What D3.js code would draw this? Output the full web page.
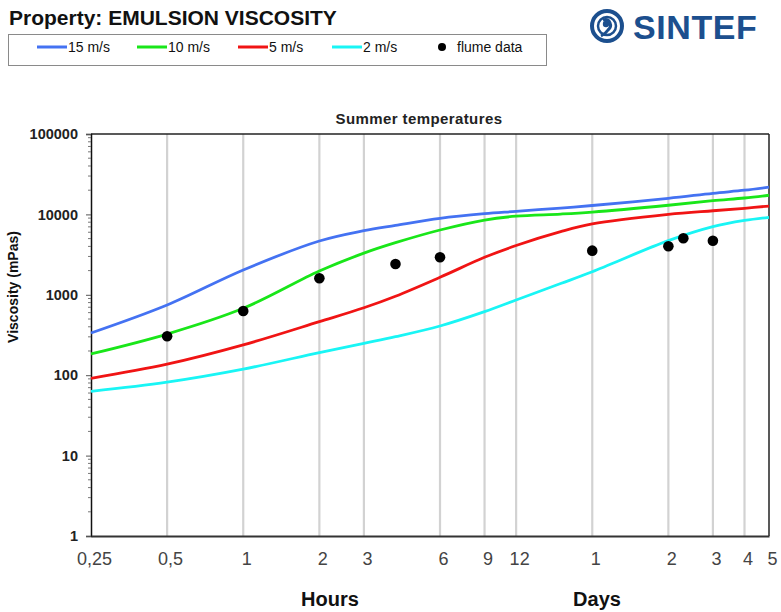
<!DOCTYPE html>
<html><head><meta charset="utf-8">
<script src="https://cdn.jsdelivr.net/npm/d3@7"></script>
<style>
body{margin:0;background:#fff;}
svg{display:block;font-family:Arial,"Liberation Sans",sans-serif;}
</style></head><body>
<svg id="c" width="781" height="612"></svg>
<script>
// time in hours
const hours = [0.25, 0.5, 1, 2, 3, 4, 6, 9, 12, 18, 24, 48, 72, 96, 120];
const v15 = [335, 747, 2034, 4670, 6270, 7300, 8940, 10200, 10900, 12000, 12900, 15850, 18300, 20000, 21800];
const v10 = [184, 325, 679, 1977, 3300, 4450, 6400, 8510, 9500, 10100, 10700, 13000, 14800, 16000, 17300];
const v5  = [91.5, 137, 238, 463, 690, 960, 1650, 2925, 4100, 6090, 7600, 10000, 11100, 11900, 12700];
const v2  = [63, 82, 119, 191, 249, 301, 409, 617, 861, 1380, 1937, 4710, 7030, 8400, 9200];
const flumeHours = [0.5, 1, 2, 4, 6, 24, 48, 55, 72];
const flumeVals  = [305, 629, 1604, 2416, 2925, 3540, 4010, 5040, 4710];
const seriesNames = ["15 m/s", "10 m/s", "5 m/s", "2 m/s"];
const seriesColors = ["#4472f2", "#19e619", "#f01414", "#19f5f5"];
const xTickHours = [0.25, 0.5, 1, 2, 3, 6, 9, 12, 24, 48, 72, 96, 120];
const xTickLabels = ["0,25", "0,5", "1", "2", "3", "6", "9", "12", "1", "2", "3", "4", "5"];
const yMajor = [1, 10, 100, 1000, 10000, 100000];

const svg = d3.select("#c");
const L = 91, R = 769, T = 134, B = 536;
const x = d3.scaleLog().domain([0.25, 120]).range([L, R]);
const y = d3.scaleLog().domain([1, 100000]).range([B, T]);

// title
svg.append("text").attr("x", 9).attr("y", 25).attr("font-size", 21).attr("font-weight", "bold")
  .attr("fill", "#111").text("Property: EMULSION VISCOSITY");

// legend box
svg.append("rect").attr("x", 8.5).attr("y", 34.5).attr("width", 538).attr("height", 31)
  .attr("fill", "#fff").attr("stroke", "#8a8a8a");
const legX = [37, 137, 238, 332];
seriesNames.forEach((n, i) => {
  svg.append("line").attr("x1", legX[i]).attr("x2", legX[i] + 30).attr("y1", 47).attr("y2", 47)
    .attr("stroke", seriesColors[i]).attr("stroke-width", 3);
  svg.append("text").attr("x", legX[i] + 31).attr("y", 52).attr("font-size", 14).attr("fill", "#111").text(n);
});
svg.append("circle").attr("cx", 442).attr("cy", 47).attr("r", 4).attr("fill", "#000");
svg.append("text").attr("x", 457).attr("y", 52).attr("font-size", 14).attr("fill", "#111").text("flume data");

// SINTEF logo
const logo = svg.append("g").attr("fill", "none").attr("stroke", "#1c4f8e");
logo.append("circle").attr("cx", 607).attr("cy", 26).attr("r", 15).attr("stroke-width", 4);
logo.append("circle").attr("cx", 607).attr("cy", 26).attr("r", 9).attr("stroke-width", 2.5);
logo.append("path").attr("d", "M603,20 C610,18 613,26 608,30 C606,33 603,35 601,36")
  .attr("stroke-width", 3);
svg.append("circle").attr("cx", 606).attr("cy", 24).attr("r", 3.2).attr("fill", "#1c4f8e");
svg.append("text").attr("x", 633).attr("y", 39).attr("font-size", 34).attr("font-weight", "bold")
  .attr("fill", "#1c4f8e").attr("letter-spacing", 0.6).text("SINTEF");

// chart title
svg.append("text").attr("x", 419).attr("y", 124).attr("text-anchor", "middle").attr("font-size", 15)
  .attr("font-weight", "bold").attr("fill", "#222").attr("letter-spacing", 0.4).text("Summer temperatures");

// gridlines
svg.append("g").selectAll("line").data(xTickHours.slice(1, -1)).join("line")
  .attr("x1", d => x(d)).attr("x2", d => x(d)).attr("y1", T).attr("y2", B)
  .attr("stroke", "#d2d2d2").attr("stroke-width", 2.2);

// frame top/right
svg.append("line").attr("x1", L).attr("x2", R).attr("y1", T).attr("y2", T).attr("stroke", "#222").attr("stroke-width", 1.5);
svg.append("line").attr("x1", R).attr("x2", R).attr("y1", T).attr("y2", B).attr("stroke", "#222").attr("stroke-width", 1.5);

// y axis
const yMinor = [];
for (let e = 0; e < 5; e++) for (let m = 2; m <= 9; m++) yMinor.push(m * Math.pow(10, e));
const ya = svg.append("g").attr("transform", `translate(${L},0)`)
  .call(d3.axisLeft(y).tickValues(yMajor).tickSize(5).tickPadding(8).tickFormat(d3.format("d")));
ya.select(".domain").attr("stroke", "#111").attr("stroke-width", 1.5);
ya.selectAll(".tick line").attr("stroke", "#555");
ya.selectAll(".tick text").attr("font-size", 14.5).attr("font-weight", "bold").attr("fill", "#222")
  .attr("font-family", "Arial,'Liberation Sans',sans-serif");
svg.append("g").selectAll("line").data(yMinor).join("line")
  .attr("x1", L - 3).attr("x2", L).attr("y1", d => y(d)).attr("y2", d => y(d))
  .attr("stroke", "#777").attr("stroke-width", 1);

// x axis
const xa = svg.append("g").attr("transform", `translate(0,${B})`)
  .call(d3.axisBottom(x).tickValues(xTickHours).tickSize(0).tickPadding(16)
    .tickFormat((d, i) => xTickLabels[i]));
xa.select(".domain").attr("stroke", "#333").attr("stroke-width", 2);
xa.selectAll(".tick text").attr("font-size", 18).attr("fill", "#444").attr("dx", 3)
  .attr("font-family", "Arial,'Liberation Sans',sans-serif");

svg.append("text").attr("x", 330).attr("y", 606).attr("text-anchor", "middle").attr("font-size", 20)
  .attr("font-weight", "bold").attr("fill", "#111").text("Hours");
svg.append("text").attr("x", 597).attr("y", 606).attr("text-anchor", "middle").attr("font-size", 20)
  .attr("font-weight", "bold").attr("fill", "#111").text("Days");

svg.append("text").attr("transform", "translate(18,287) rotate(-90)").attr("text-anchor", "middle")
  .attr("font-size", 14).attr("font-weight", "bold").attr("fill", "#111").text("Viscosity (mPas)");

// lines
const line = d3.line().x(d => x(d[0])).y(d => y(d[1])).curve(d3.curveCatmullRom.alpha(0.5));
[v15, v10, v5, v2].forEach((vals, i) => {
  svg.append("path").datum(hours.map((h, j) => [h, vals[j]])).attr("d", line)
    .attr("fill", "none").attr("stroke", seriesColors[i]).attr("stroke-width", 2.8);
});

// flume data
svg.append("g").selectAll("circle").data(flumeHours.map((h, i) => [h, flumeVals[i]])).join("circle")
  .attr("cx", d => x(d[0])).attr("cy", d => y(d[1])).attr("r", 5.3).attr("fill", "#000");
</script>
</body></html>
